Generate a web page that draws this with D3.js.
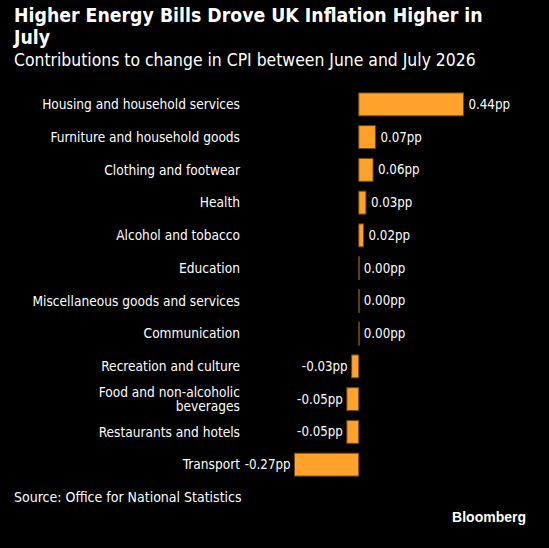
<!DOCTYPE html>
<html>
  <head>
    <meta charset="UTF-8">
    <style>
      body {
        margin: 0;
        background: #000;
      }

      svg text {
        font-family: 'DejaVu Sans Condensed', 'DejaVu Sans', sans-serif;
        font-stretch: condensed;
        fill: #fff;
      }

      .title {
        font-size: 19.3px;
        font-weight: bold;
      }

      .subtitle {
        font-size: 17.4px;
      }

      .cat-axis text {
        font-size: 13.6px;
      }

      .value-label {
        font-size: 13.2px;
      }

      .source {
        font-size: 14px;
      }

      .logo {
        font-family: 'Liberation Sans', Arial, sans-serif !important;
        font-stretch: normal !important;
        font-size: 14px;
        font-weight: bold;
      }
    </style>
    <script src="https://d3js.org/d3.v7.min.js"></script>
  </head>

  <body>
    <svg id="chart"></svg>

    <script type="text/javascript">
      let categories = [
        'Housing and household services',
        'Furniture and household goods',
        'Clothing and footwear',
        'Health',
        'Alcohol and tobacco',
        'Education',
        'Miscellaneous goods and services',
        'Communication',
        'Recreation and culture',
        'Food and non-alcoholic\nbeverages',
        'Restaurants and hotels',
        'Transport'
      ]
      let contributions = [0.44, 0.07, 0.06, 0.03, 0.02, 0.00, 0.00, 0.00, -0.03, -0.05, -0.05, -0.27]

      let titleLines = ['Higher Energy Bills Drove UK Inflation Higher in', 'July']
      let subtitle = 'Contributions to change in CPI between June and July 2026'
      let source = 'Source: Office for National Statistics'

      function getChartConfig() {
        let width = 549
        let height = 548
        let svg = d3.select('#chart')
          .attr('width', width)
          .attr('height', height)

        return { width, height, svg, labelRight: 240 }
      }

      function getChartScales(config) {
        let xScale = d3.scaleLinear()
          .domain([d3.min(contributions), d3.max(contributions)])
          .range([294.5, 463.5])

        let yScale = d3.scaleBand()
          .domain(categories)
          .range([88, 481])
          .paddingInner(0.3)
          .paddingOuter(0.15)

        return { xScale, yScale }
      }

      function drawHeader(config) {
        config.svg.append('text')
          .attr('class', 'title')
          .attr('x', 14)
          .attr('y', 22)
          .selectAll('tspan')
          .data(titleLines)
          .enter()
          .append('tspan')
          .attr('x', 14)
          .attr('dy', (d, i) => i === 0 ? 0 : 22)
          .text(d => d)

        config.svg.append('text')
          .attr('class', 'subtitle')
          .attr('x', 14)
          .attr('y', 66)
          .text(subtitle)
      }

      function drawBars(scales, config) {
        let rows = categories.map((c, i) => ({ category: c, value: contributions[i] }))

        // zero-valued bars still show as a hairline at the baseline
        config.svg.append('g')
          .selectAll('rect')
          .data(rows)
          .enter()
          .append('rect')
          .attr('x', d => scales.xScale(Math.min(0, d.value)))
          .attr('y', d => scales.yScale(d.category))
          .attr('width', d => Math.max(0.5, Math.abs(scales.xScale(d.value) - scales.xScale(0))))
          .attr('height', scales.yScale.bandwidth())
          .attr('fill', '#ffa22b')
          .attr('stroke', '#6e4815')
          .attr('stroke-width', 1)

        config.svg.append('g')
          .selectAll('text')
          .data(rows)
          .enter()
          .append('text')
          .attr('class', 'value-label')
          .attr('x', d => d.value < 0 ? scales.xScale(d.value) - 4 : scales.xScale(d.value) + 5)
          .attr('y', d => scales.yScale(d.category) + scales.yScale.bandwidth() / 2)
          .attr('dy', '0.35em')
          .attr('text-anchor', d => d.value < 0 ? 'end' : 'start')
          .text(d => `${d.value.toFixed(2)}pp`)
      }

      function drawCategoryAxis(scales, config) {
        let axisY = d3.axisLeft(scales.yScale)
          .tickSize(0)
          .tickPadding(0)
          .tickFormat('')

        let g = config.svg.append('g')
          .attr('class', 'cat-axis')
          .attr('transform', `translate(${config.labelRight}, 0)`)
          .call(axisY)

        g.select('.domain').remove()

        g.selectAll('.tick').each(function(d) {
          let lines = d.split('\n')
          let text = d3.select(this).append('text')
            .attr('text-anchor', 'end')
            .attr('x', 0)
          lines.forEach((line, i) => {
            text.append('tspan')
              .attr('x', 0)
              .attr('y', (i - (lines.length - 1) / 2) * 14.5)
              .attr('dy', '0.35em')
              .text(line)
          })
        })
      }

      function drawFooter(config) {
        config.svg.append('text')
          .attr('class', 'source')
          .attr('x', 14)
          .attr('y', 502)
          .text(source)

        config.svg.append('text')
          .attr('class', 'logo')
          .attr('x', 526)
          .attr('y', 522)
          .attr('text-anchor', 'end')
          .text('Bloomberg')
      }

      let config = getChartConfig()
      let scales = getChartScales(config)
      drawHeader(config)
      drawBars(scales, config)
      drawCategoryAxis(scales, config)
      drawFooter(config)
    </script>
  </body>
</html>
